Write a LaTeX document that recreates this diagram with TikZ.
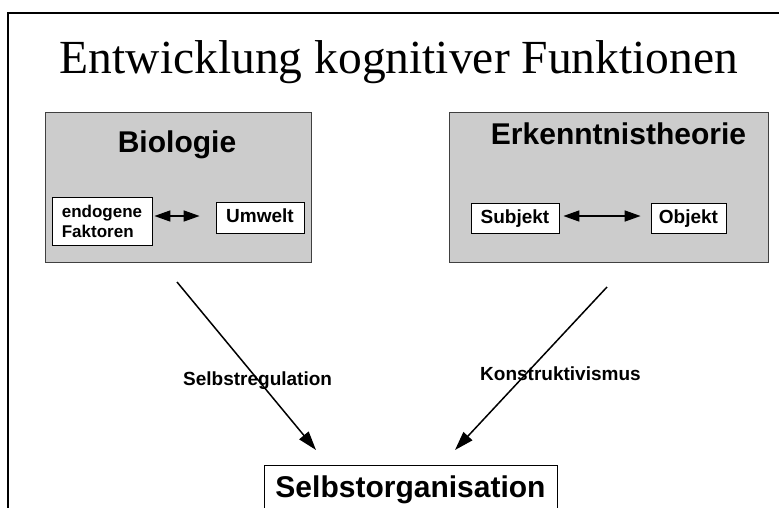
\documentclass[tikz,border=0pt]{standalone}
\usepackage{fontspec}
\setmainfont{Liberation Sans}
\newfontfamily\titlefont{Liberation Serif}
\usetikzlibrary{arrows.meta}
\definecolor{boxgray}{RGB}{204,204,204}
\begin{document}
\begin{tikzpicture}[x=1pt,y=-1pt,
  graybox/.style={draw=black!75, line width=0.9pt, fill=boxgray, inner sep=0pt},
  whitebox/.style={draw=black, line width=0.8pt, fill=white, inner sep=0pt, font=\bfseries\fontsize{19}{22}\selectfont, text height=14pt, text depth=4pt},
  head/.style={font=\bfseries\fontsize{30}{34}\selectfont, anchor=base, inner sep=0pt},
  lbl/.style={font=\bfseries\fontsize{19}{22}\selectfont, anchor=base west, inner sep=0pt},
  dbl/.style={{Triangle[length=16pt,width=11pt]}-{Triangle[length=16pt,width=11pt]}, line width=1.6pt},
  flow/.style={-{Triangle[length=19pt,width=12pt]}, line width=1.5pt}]
\clip (0,0) rectangle (779,507);
\draw[line width=2.5pt] (8,520) -- (8,13) -- (790,13);
\node[font=\titlefont\fontsize{47.5}{50}\selectfont, anchor=base, inner sep=0pt] (title) at (399,73) {Entwicklung kognitiver Funktionen};
% left block
\node[graybox, minimum width=266pt, minimum height=150pt] (bio) at (178,187) {};
\node[head] (biot) at (177,152) {Biologie};
\node[draw=black, line width=0.8pt, fill=white, minimum width=100pt, minimum height=48pt, inner sep=0pt, align=left, font=\bfseries\fontsize{17}{20}\selectfont] (endo) at (102,221) {endogene\\Faktoren};
\node[whitebox, minimum width=88pt, minimum height=31pt] (umwelt) at (260,217.5) {Umwelt};
\draw[dbl] ([xshift=2pt,yshift=5pt]endo.east) -- ([xshift=-16pt,yshift=1.5pt]umwelt.west);
% right block
\node[graybox, minimum width=319pt, minimum height=150pt] (erk) at (608.5,187) {};
\node[head] (erkt) at (618.5,144) {Erkenntnistheorie};
\node[whitebox, minimum width=88pt, minimum height=30pt] (subj) at (515,218) {Subjekt};
\node[whitebox, minimum width=75pt, minimum height=30pt] (obj) at (688.5,218) {Objekt};
\draw[dbl] ([xshift=4pt,yshift=2pt]subj.east) -- ([xshift=-10pt,yshift=2pt]obj.west);
% bottom
\node[draw=black, line width=0.8pt, fill=white, minimum width=293pt, anchor=north, inner sep=0pt, font=\bfseries\fontsize{30}{34}\selectfont, text height=32pt, text depth=28pt] (selbst) at (410.5,465) {Selbstorganisation};
\coordinate (s1) at (177,282);
\coordinate (k1) at (607,287);
\draw[flow] (s1) -- ([xshift=-94.5pt,yshift=15pt]selbst.north);
\draw[flow] (k1) -- ([xshift=44.5pt,yshift=15pt]selbst.north);
\node[lbl] (sr) at (183,385) {Selbstregulation};
\node[lbl] (kv) at (480,380) {Konstruktivismus};
\end{tikzpicture}
\end{document}
